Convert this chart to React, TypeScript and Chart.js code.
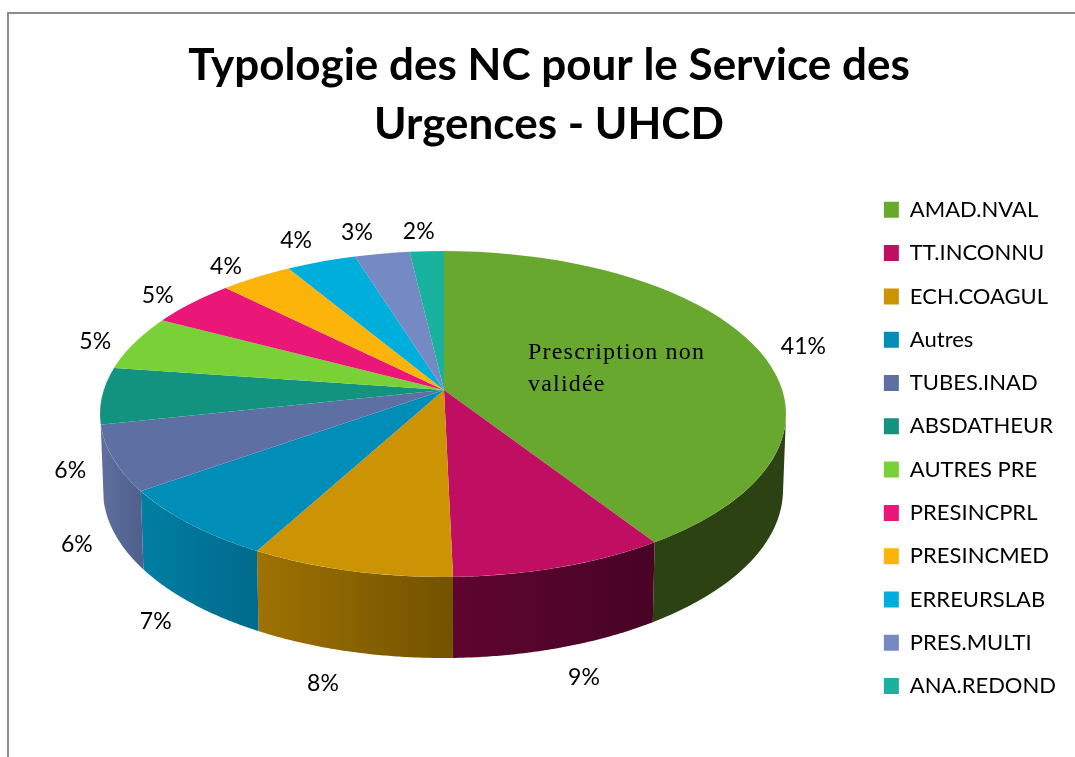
import React, { useEffect, useRef } from "react";
import { Chart, registerables } from "chart.js";

Chart.register(...registerables);

const CATEGORIES = ["AMAD.NVAL", "TT.INCONNU", "ECH.COAGUL", "Autres", "TUBES.INAD", "ABSDATHEUR", "AUTRES PRE", "PRESINCPRL", "PRESINCMED", "ERREURSLAB", "PRES.MULTI", "ANA.REDOND"];
const SLICE_VALUES = [41.1, 8.6, 8.1, 7.2, 6.6, 5.8, 5.6, 4.8, 3.9, 3.7, 2.9, 1.8];
const PERCENT_LABELS = ["41%", "9%", "8%", "7%", "6%", "6%", "5%", "5%", "4%", "4%", "3%", "2%"];
const TOP_COLORS = ["#69A82F", "#C00F62", "#CC9405", "#008DB8", "#5E70A3", "#129380", "#7AD137", "#EA1778", "#FDB40A", "#00AEDB", "#7589C4", "#19B29E"];
const SIDE_LEFT = ["#2C4213", "#5E052F", "#9E7203", "#007FA3", "#5F6F9F"];
const SIDE_RIGHT = ["#2C4213", "#480326", "#735200", "#006A8C", "#4F5F8A"];
const TITLE_LINES = ["Typologie des NC pour le Service des", "Urgences - UHCD"];
const NOTE_LINES = ["Prescription non", "validée"];

// Placement of the 3D view (not data)
const APEX = { x: 444, y: 390 };
const TILT = 0.455;
const TOP_RIM = { x: 443, y: 414, rx: 343, ry: 163 };
const BOTTOM_RIM = { x: 443, y: 490, rx: 340, ry: 168 };
// Outward nudge of each percent label from its rim point
const LABEL_NUDGE: [number, number][] = [
  [46, -2], [23, 111], [-27, 113], [-34, 98], [-36, 86], [-32, 75], [-39, -1], [-34, -7], [-30, -11], [-25, -21], [-25, -21], [-8, -20],
];

function rimParam(a: number) {
  const dx = Math.cos(a);
  const dy = TILT * Math.sin(a);
  const ox = (APEX.x - TOP_RIM.x) / TOP_RIM.rx;
  const oy = (APEX.y - TOP_RIM.y) / TOP_RIM.ry;
  const ux = dx / TOP_RIM.rx;
  const uy = dy / TOP_RIM.ry;
  const A = ux * ux + uy * uy;
  const B = 2 * (ox * ux + oy * uy);
  const C = ox * ox + oy * oy - 1;
  const s = (-B + Math.sqrt(B * B - 4 * A * C)) / (2 * A);
  return Math.atan2(oy + uy * s, ox + ux * s);
}
const onRim = (r: typeof TOP_RIM, t: number) => ({ x: r.x + r.rx * Math.cos(t), y: r.y + r.ry * Math.sin(t) });

const pie3d = {
  id: "pie3d",
  beforeDraw(chart: any) {
    const { ctx, width, height } = chart;
    ctx.save();
    ctx.fillStyle = "#ffffff";
    ctx.fillRect(0, 0, width, height);
    ctx.strokeStyle = "#8c8c8c";
    ctx.lineWidth = 2;
    ctx.beginPath();
    ctx.moveTo(8, height);
    ctx.lineTo(8, 13);
    ctx.lineTo(width, 13);
    ctx.stroke();
    ctx.restore();
  },
  beforeDatasetsDraw(chart: any) {
    const { ctx } = chart;
    const arcs = chart.getDatasetMeta(0).data;
    arcs.forEach((arc: any, i: number) => {
      if (i >= SIDE_LEFT.length) return;
      const pts: number[] = [];
      for (let n = 0; n <= 80; n++) {
        const t = rimParam(arc.startAngle + ((arc.endAngle - arc.startAngle) * n) / 80);
        if (Math.sin(t) >= 0) pts.push(t);
      }
      if (pts.length < 2) return;
      const tops = pts.map((t) => onRim(TOP_RIM, t));
      const bots = pts.map((t) => onRim(BOTTOM_RIM, t));
      const xs = tops.concat(bots).map((p) => p.x);
      const g = ctx.createLinearGradient(Math.min(...xs), 0, Math.max(...xs), 0);
      g.addColorStop(0, SIDE_LEFT[i]);
      g.addColorStop(1, SIDE_RIGHT[i]);
      ctx.fillStyle = g;
      ctx.beginPath();
      tops.forEach((p, n) => (n ? ctx.lineTo(p.x, p.y) : ctx.moveTo(p.x, p.y)));
      bots.reverse().forEach((p) => ctx.lineTo(p.x, p.y));
      ctx.closePath();
      ctx.fill();
    });
    const first = arcs[0];
    ctx.save();
    ctx.beginPath();
    ctx.ellipse(TOP_RIM.x, TOP_RIM.y, TOP_RIM.rx, TOP_RIM.ry, 0, 0, Math.PI * 2);
    ctx.clip();
    ctx.translate(APEX.x, APEX.y);
    ctx.scale(1, TILT);
    ctx.translate(-first.x, -first.y);
  },
  afterDatasetsDraw(chart: any) {
    const { ctx } = chart;
    ctx.restore();
    ctx.save();
    ctx.fillStyle = "#000000";
    ctx.font = "23px Lato";
    ctx.textAlign = "center";
    ctx.textBaseline = "middle";
    chart.getDatasetMeta(0).data.forEach((arc: any, i: number) => {
      const p = onRim(TOP_RIM, rimParam((arc.startAngle + arc.endAngle) / 2));
      ctx.fillText(PERCENT_LABELS[i], p.x + LABEL_NUDGE[i][0], p.y + LABEL_NUDGE[i][1]);
    });
    ctx.font = "24px 'Liberation Serif'";
    ctx.letterSpacing = "1.2px";
    ctx.textAlign = "left";
    NOTE_LINES.forEach((line, i) => ctx.fillText(line, 528, 353 + i * 32));
    ctx.restore();
  },
};

export default function App() {
  const ref = useRef<HTMLCanvasElement>(null);
  useEffect(() => {
    const chart = new Chart(ref.current!, {
      type: "pie",
      data: {
        labels: CATEGORIES,
        datasets: [{ data: SLICE_VALUES, backgroundColor: TOP_COLORS, borderWidth: 0, radius: 440, clip: false } as any],
      },
      options: {
        animation: false,
        responsive: false,
        layout: { padding: { left: 32, right: 9, top: 0, bottom: 15 } },
        plugins: {
          tooltip: { enabled: false },
          title: {
            display: true,
            text: TITLE_LINES,
            color: "#000000",
            font: { family: "Lato", size: 44, weight: "bold", lineHeight: 1.34 },
            padding: { top: 36, bottom: 0 },
          },
          legend: {
            position: "right",
            fullSize: false,
            labels: {
              color: "#000000",
              font: { family: "Lato", size: 22 },
              boxWidth: 15,
              boxHeight: 16,
              padding: 21.3,
            },
          },
        },
      },
      plugins: [pie3d],
    } as any);
    return () => chart.destroy();
  }, []);
  return <canvas ref={ref} width={1075} height={757} style={{ position: "absolute", left: 0, top: 0, display: "block" }} />;
}
